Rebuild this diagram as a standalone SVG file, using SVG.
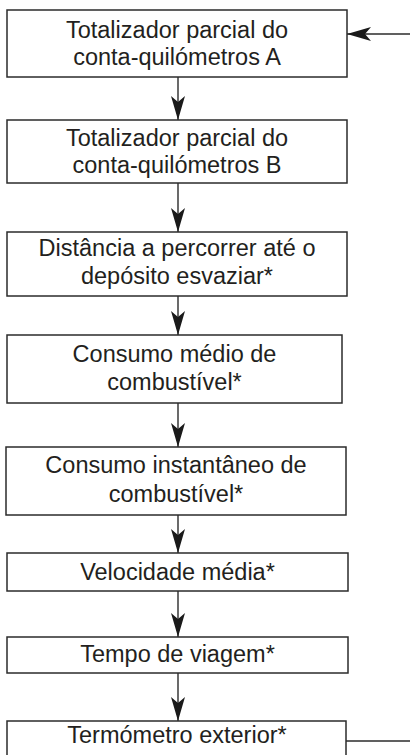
<svg xmlns="http://www.w3.org/2000/svg" width="410" height="755" viewBox="0 0 410 755">
<style>
.box{fill:#fff;stroke:#2b2b2b;stroke-width:1.5}
.lbl{font-family:"Liberation Sans",Arial,sans-serif;font-size:23.5px;fill:#231f20;text-anchor:middle}
.con{stroke:#2b2b2b;stroke-width:1.4;fill:none}
</style>
<defs>
<marker id="ah" viewBox="-25 -8 26 16" markerWidth="26" markerHeight="16" refX="0" refY="0" markerUnits="userSpaceOnUse" orient="auto">
<path d="M0,0 L-24,-7 L-18,0 L-24,7 Z" fill="#1a1a1a"/>
</marker>
</defs>
<rect width="410" height="755" fill="#fff"/>
<g id="connectors">
<line class="con" x1="178" y1="77" x2="178" y2="120" marker-end="url(#ah)"/>
<line class="con" x1="178" y1="183" x2="178" y2="232" marker-end="url(#ah)"/>
<line class="con" x1="178" y1="296" x2="178" y2="335" marker-end="url(#ah)"/>
<line class="con" x1="178" y1="403" x2="178" y2="447" marker-end="url(#ah)"/>
<line class="con" x1="178" y1="515" x2="178" y2="553" marker-end="url(#ah)"/>
<line class="con" x1="178" y1="591" x2="178" y2="637" marker-end="url(#ah)"/>
<line class="con" x1="178" y1="673" x2="178" y2="721" marker-end="url(#ah)"/>
<line class="con" x1="346" y1="741" x2="410" y2="741"/>
<line class="con" x1="410" y1="34" x2="347" y2="34" marker-end="url(#ah)"/>
</g>
<g id="n1"><rect class="box" x="7" y="10" width="340" height="67"/><text class="lbl" x="177" y="38">Totalizador parcial do</text><text class="lbl" x="177" y="65">conta-quilómetros A</text></g>
<g id="n2"><rect class="box" x="7" y="120" width="340" height="63"/><text class="lbl" x="177" y="146">Totalizador parcial do</text><text class="lbl" x="177" y="173">conta-quilómetros B</text></g>
<g id="n3"><rect class="box" x="7" y="232" width="340" height="64"/><text class="lbl" x="177" y="256">Distância a percorrer até o</text><text class="lbl" x="177" y="284">depósito esvaziar*</text></g>
<g id="n4"><rect class="box" x="7" y="335" width="335" height="68"/><text class="lbl" x="174.5" y="362">Consumo médio de</text><text class="lbl" x="174.5" y="390">combustível*</text></g>
<g id="n5"><rect class="box" x="6" y="447" width="340" height="68"/><text class="lbl" x="176" y="473">Consumo instantâneo de</text><text class="lbl" x="176" y="502">combustível*</text></g>
<g id="n6"><rect class="box" x="7" y="553" width="341" height="38"/><text class="lbl" x="177.5" y="580">Velocidade média*</text></g>
<g id="n7"><rect class="box" x="7" y="637" width="341" height="36"/><text class="lbl" x="177.5" y="662">Tempo de viagem*</text></g>
<g id="n8"><rect class="box" x="7" y="721" width="339" height="44"/><text class="lbl" x="177" y="743">Termómetro exterior*</text></g>
</svg>
